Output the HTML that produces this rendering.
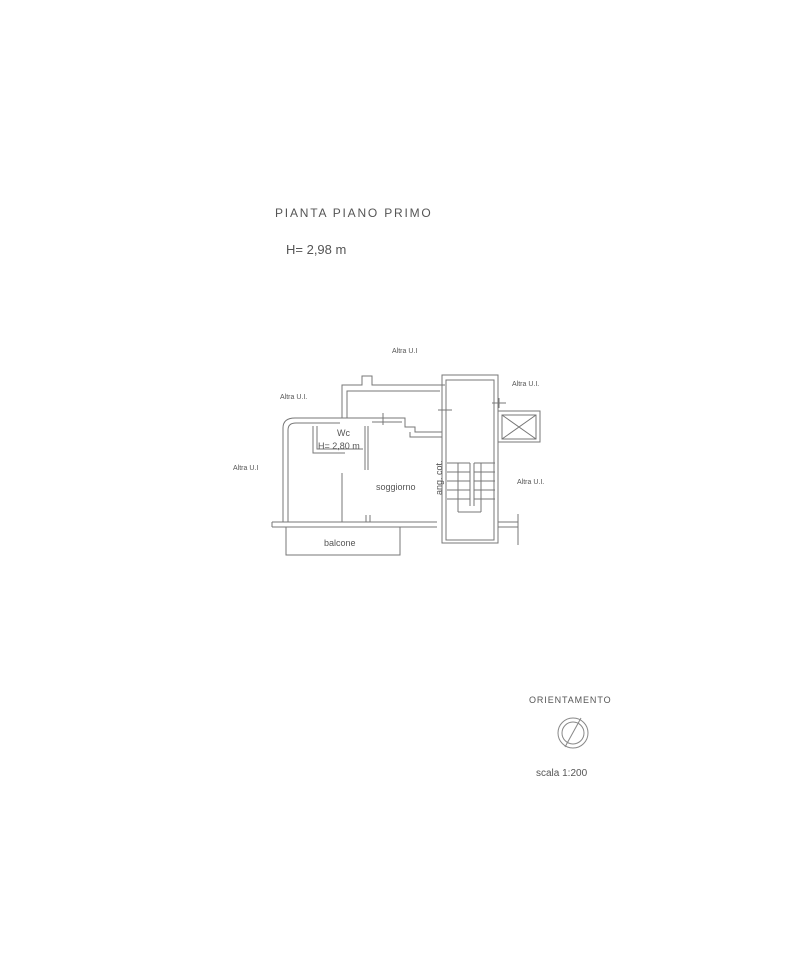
<!DOCTYPE html>
<html><head><style>
body{margin:0;background:#fff}
svg text{font-family:"Liberation Sans",sans-serif;fill:#555}
</style></head><body>
<svg width="801" height="960" viewBox="0 0 801 960" xmlns="http://www.w3.org/2000/svg">
<rect width="801" height="960" fill="#fff"/>
<text x="275" y="217" font-size="12" letter-spacing="1.8" fill="#666">PIANTA  PIANO  PRIMO</text>
<text x="286" y="254" font-size="13" fill="#666">H= 2,98 m</text>
<g font-size="7" fill="#888">
<text x="392" y="353">Altra U.I</text>
<text x="280" y="399">Altra U.I.</text>
<text x="512" y="386">Altra U.I.</text>
<text x="233" y="470">Altra U.I</text>
<text x="517" y="484">Altra U.I.</text>
</g>
<g stroke="#777" fill="none" stroke-width="1">
<path d="M283,522 L283,428 Q283,418 295,418 L372,418"/>
<path d="M288,522 L288,430 Q288,423 296,423 L340,423"/>
<path d="M272,522 L437,522 M272,527 L437,527 M272,522 L272,527"/>
<path d="M286,527 L286,555 L400,555 L400,527"/>
<path d="M342,418 L342,385 L362,385 L362,376 L372,376 L372,385 L445,385"/>
<path d="M347,418 L347,391 L440,391"/>
<path d="M372,418 L405,418 L405,427 L415,427 L415,432 L442,432"/>
<path d="M372,422 L402,422 M410,432 L410,437 L442,437"/>
<path d="M383,413 L383,425"/>
<rect x="442" y="375" width="56" height="168"/>
<rect x="446" y="380" width="48" height="160"/>
<path d="M498,522 L518,522 L518,515 M498,527 L518,527"/>
<path d="M518,514 L518,545"/>
<rect x="498" y="411" width="42" height="31"/>
<rect x="502" y="415" width="34" height="24"/>
<path d="M502,415 L536,439 M536,415 L502,439"/>
<path d="M492,403 L506,403 M499,398 L499,408"/>
<path d="M438,410 L452,410"/>
<path d="M447,463 L470,463 M447,472 L470,472 M447,481 L470,481 M447,490 L470,490 M447,499 L470,499"/>
<path d="M474,463 L495,463 M474,472 L495,472 M474,481 L495,481 M474,490 L495,490 M474,499 L495,499"/>
<path d="M458,463 L458,512 M481,463 L481,512 M458,512 L481,512 M470,463 L470,506 M474,463 L474,506"/>
<path d="M313,426 L313,453 L345,453 M317,426 L317,449 L363,449"/>
<path d="M365,426 L365,470 M368,426 L368,470"/>
<path d="M342,473 L342,522"/>
<path d="M366,515 L366,522 M370,515 L370,522"/>
</g>
<text x="337" y="436" font-size="9" fill="#555">Wc</text>
<text x="318" y="449" font-size="9" fill="#555">H= 2,80 m</text>
<text x="376" y="490" font-size="9" fill="#555">soggiorno</text>
<text x="442" y="495" font-size="9" fill="#555" transform="rotate(-90 442 495)">ang. cot.</text>
<text x="324" y="546" font-size="9" fill="#555">balcone</text>
<text x="529" y="703" font-size="9" letter-spacing="0.9" fill="#666">ORIENTAMENTO</text>
<g stroke="#888" fill="none"><circle cx="573" cy="733" r="15"/><circle cx="573" cy="733" r="11"/><path d="M565,747 L581,718"/></g>
<text x="536" y="776" font-size="10" fill="#555">scala 1:200</text>
</svg>
</body></html>
